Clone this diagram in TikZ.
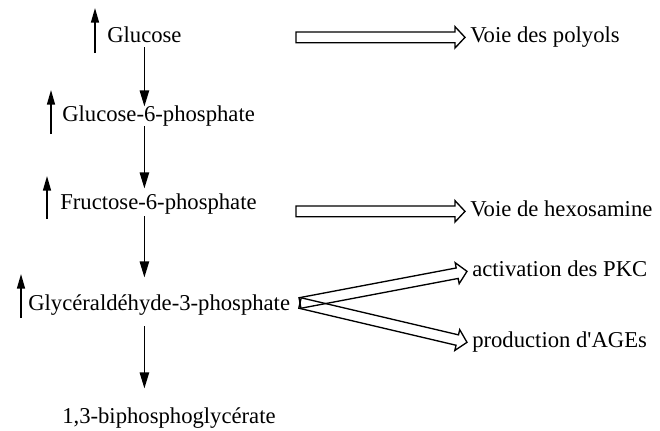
\documentclass[tikz,border=0pt]{standalone}
\usepackage{fontspec}
\setmainfont{Liberation Serif}
\usetikzlibrary{arrows.meta,calc}

\begin{document}
\begin{tikzpicture}[
    x=0.75pt, y=-0.75pt,
    font=\fontsize{17}{20}\selectfont,
    metab/.style={anchor=base west, inner xsep=0pt, inner ysep=1.5pt, text height=0.7em, text depth=0.22em},
    voie/.style={anchor=base west, inner xsep=3.75pt, inner ysep=1.5pt, text height=0.7em, text depth=0pt},
    down/.style={-{Triangle[length=12pt, width=7pt]}, line width=1.1pt},
    up/.style={-{Triangle[length=11pt, width=6pt]}, line width=1.1pt},
    hollow/.style={draw, line width=1pt, line join=miter, to path={
        let \p1=($(\tikztotarget)!7.5pt!(\tikztostart)$) in
        ($(\tikztostart)!4pt!90:(\tikztotarget)$) -- ($(\p1)!4pt!90:(\tikztotarget)$)
        -- ($(\p1)!8pt!90:(\tikztotarget)$) -- (\tikztotarget)
        -- ($(\p1)!8pt!-90:(\tikztotarget)$) -- ($(\p1)!4pt!-90:(\tikztotarget)$)
        -- ($(\tikztostart)!4pt!-90:(\tikztotarget)$) -- cycle}}
]
\useasboundingbox (0,0) rectangle (660,430);

% Glycolysis
\node[metab] (glc) at (107,42) {Glucose};
\node[metab] (g6p) at (62,121) {Glucose-6-phosphate};
\node[metab] (f6p) at (60,209) {Fructose-6-phosphate};
\node[metab] (gap) at (28,310) {Glycéraldéhyde-3-phosphate};
\node[metab] (bpg) at (62,423) {1,3-biphosphoglycérate};

\draw[down, shorten >=2.25pt] (glc.south) -- (glc.south |- g6p.north);
\draw[down, shorten >=6.75pt] (glc.south |- g6p.south) -- (glc.south |- f6p.north);
\draw[down, shorten <=1.5pt, shorten >=15.75pt] (glc.south |- f6p.south) -- (glc.south |- gap.north);
\draw[down, shorten <=8.25pt, shorten >=17.25pt] (glc.south |- gap.south) -- (glc.south |- bpg.north);

% Increased levels
\draw[up] ($(glc.base west)+(-12,11)$) -- ++(0,-45);
\draw[up] ($(g6p.base west)+(-11,13)$) -- ++(0,-44);
\draw[up] ($(f6p.base west)+(-13,10)$) -- ++(0,-43);
\draw[up] ($(gap.base west)+(-7,8)$) -- ++(0,-44);

% Side pathways
\node[voie] (pol) at (465,42) {Voie des polyols};
\node[voie] (hex) at (465,216) {Voie de hexosamine};
\node[voie] (pkc) at (467,276) {activation des PKC};
\node[voie] (age) at (467,347) {production d\textquotesingle AGEs};

\coordinate (polS) at ($(pol.west)+(-169,0)$);
\coordinate (hexS) at ($(hex.west)+(-169,0)$);
\coordinate (split) at (300,303);

\draw[hollow] (polS) to (pol.west);
\draw[hollow] (hexS) to (hex.west);
\draw[hollow] (split) to (pkc.west);
\draw[hollow] (split) to (age.west);

\end{tikzpicture}
\end{document}
